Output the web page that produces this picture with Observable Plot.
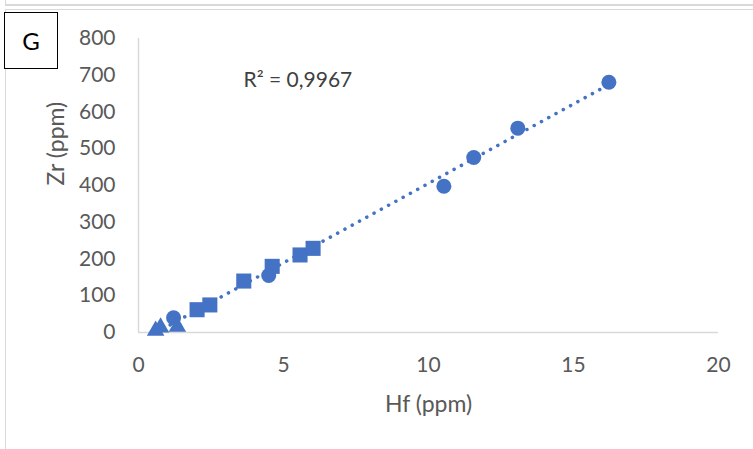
<!DOCTYPE html>
<html>
<head>
<meta charset="utf-8">
<script src="https://cdn.jsdelivr.net/npm/d3@7"></script>
<script src="https://cdn.jsdelivr.net/npm/@observablehq/plot@0.6"></script>
<style>
  html, body { margin: 0; padding: 0; background: #fff; }
  #wrap { position: relative; width: 753px; height: 449px; overflow: hidden; font-family: Lato, sans-serif; }
  #topband { position: absolute; left: 5px; top: 0; width: 760px; height: 4px; border-left: 1px solid #d9d9d9; border-bottom: 2px solid #d9d9d9; }
  #frame { position: absolute; left: 5px; top: 9px; width: 760px; height: 460px; border: 1px solid #d9d9d9; }
  #panel { position: absolute; left: 4px; top: 12px; width: 52px; height: 55px; border: 1.5px solid #000; background: #fff;
           display: flex; align-items: center; justify-content: center; font-size: 24px; color: #000; }
  #chart { position: absolute; left: 0; top: 0; }
</style>
</head>
<body>
<div id="wrap">
  <div id="topband"></div>
  <div id="frame"></div>
  <div id="chart"></div>
  <div id="panel">G</div>
</div>
<script>
// Series (Hf ppm, Zr ppm)
const circleHf = [16.22, 13.08, 11.56, 10.53, 4.49, 1.21];
const circleZr = [681, 556, 476, 398, 155, 40];
const squareHf = [2.02, 2.46, 3.63, 4.61, 5.57, 6.02];
const squareZr = [62, 75, 140, 180, 211, 229];
const triangleHf = [0.59, 0.76, 1.34];
const triangleZr = [5, 14, 16];

const xTicks = [0, 5, 10, 15, 20];
const yTicks = [0, 100, 200, 300, 400, 500, 600, 700, 800];
const xTitle = "Hf (ppm)";
const yTitle = "Zr (ppm)";
const r2Label = "R² = 0,9967";
const panelLabel = "G";

const blue = "#4472C4";
const toRows = (xs, ys) => xs.map((x, i) => ({x, y: ys[i]}));
const circles = toRows(circleHf, circleZr);
const squares = toRows(squareHf, squareZr);
const triangles = toRows(triangleHf, triangleZr);
const all = [...circles, ...squares, ...triangles];

document.getElementById("panel").textContent = panelLabel;

const chart = Plot.plot({
  width: 753,
  height: 449,
  marginLeft: 138,
  marginRight: 35,
  marginTop: 38,
  marginBottom: 117,
  x: {domain: [0, 20], ticks: xTicks},
  y: {domain: [0, 800], ticks: yTicks},
  style: {fontFamily: "Lato, sans-serif", fontSize: "21px", color: "#595959", background: "transparent", overflow: "visible"},
  marks: [
    Plot.ruleY([0], {stroke: "#d9d9d9", strokeWidth: 1.5}),
    Plot.ruleX([0], {stroke: "#d9d9d9", strokeWidth: 1.5}),
    Plot.axisX({ticks: xTicks, tickSize: 0, tickPadding: 25, label: null, fill: "#595959"}),
    Plot.axisY({ticks: yTicks, tickSize: 0, tickPadding: 23, label: null, fill: "#595959"}),
    Plot.text([xTitle], {frameAnchor: "bottom", dy: 79, fontSize: 23, fill: "#595959"}),
    Plot.text([yTitle], {frameAnchor: "left", dx: -82, rotate: -90, fontSize: 23, fill: "#595959"}),
    Plot.linearRegressionY(all, {x: "x", y: "y", ci: 0, stroke: blue, strokeWidth: 3.5, strokeDasharray: "0.1 8.2", strokeLinecap: "round"}),
    Plot.dot(circles, {x: "x", y: "y", symbol: "circle", r: 7.5, fill: blue}),
    Plot.dot(squares, {x: "x", y: "y", symbol: "square", r: 8.5, fill: blue}),
    Plot.dot(triangles, {x: "x", y: "y", symbol: "triangle", r: 6.5, fill: blue}),
    Plot.text([r2Label], {x: 3.62, y: 686, textAnchor: "start", fontSize: 21, fill: "#404040"})
  ]
});
document.getElementById("chart").appendChild(chart);
</script>
</body>
</html>
